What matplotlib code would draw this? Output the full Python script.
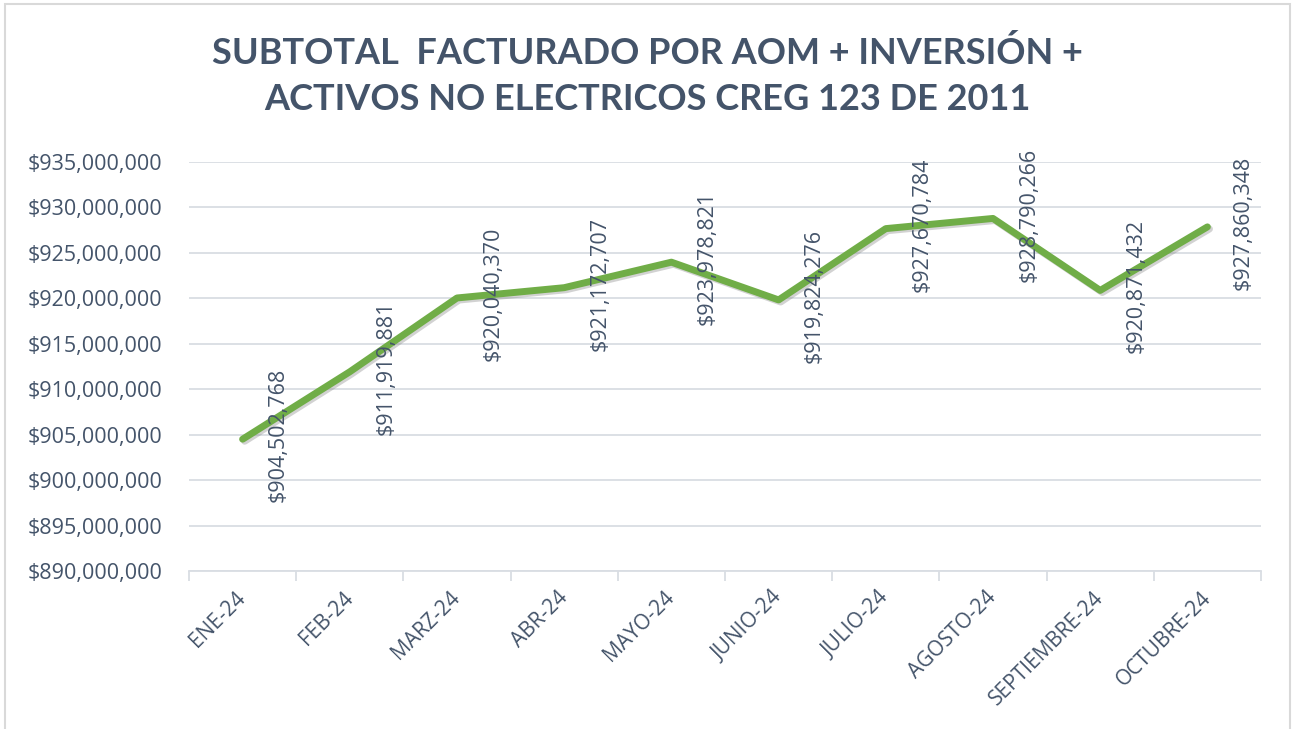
import matplotlib
matplotlib.use("Agg")
import matplotlib.pyplot as plt
import matplotlib.patheffects as pe
from matplotlib.patches import Rectangle
from matplotlib.ticker import FuncFormatter, MultipleLocator, FixedLocator

months = ["ENE-24", "FEB-24", "MARZ-24", "ABR-24", "MAYO-24", "JUNIO-24",
          "JULIO-24", "AGOSTO-24", "SEPTIEMBRE-24", "OCTUBRE-24"]
values = [904502768, 911919881, 920040370, 921172707, 923978821,
          919824276, 927670784, 928790266, 920871432, 927860348]
title_lines = ["SUBTOTAL  FACTURADO POR AOM + INVERSIÓN +",
               "ACTIVOS NO ELECTRICOS CREG 123 DE 2011"]

TXT = "#44546A"
GRID = "#D9DDE3"
GREEN = "#70AD47"

W, H = 1295, 729
fig = plt.figure(figsize=(W / 100, H / 100), dpi=100)
fig.patch.set_facecolor("white")

# outer chart border
fig.patches.append(Rectangle((5 / W, -0.05), (1290 - 5) / W, 1.05 - 4 / H,
                             transform=fig.transFigure, fill=False,
                             edgecolor="#D9D9D9", lw=1.5))

ax = fig.add_axes([189 / W, 1 - 571 / H, (1261 - 189) / W, (571 - 162) / H])
x = list(range(len(months)))
ax.plot(x, values, color=GREEN, lw=5, solid_capstyle="round", solid_joinstyle="round",
        path_effects=[pe.SimpleLineShadow(offset=(1.5, -1.5), shadow_color="gray", alpha=0.35),
                      pe.Normal()], zorder=3)

ax.set_xlim(-0.5, len(months) - 0.5)
ax.set_ylim(890e6, 935e6)
ax.yaxis.set_major_locator(MultipleLocator(5e6))
ax.yaxis.set_major_formatter(FuncFormatter(lambda v, p: f"${v:,.0f}"))
ax.grid(axis="y", color=GRID, lw=1.3, zorder=0)

for s in ["top", "right", "left"]:
    ax.spines[s].set_visible(False)
ax.spines["bottom"].set_color(GRID)
ax.spines["bottom"].set_linewidth(1.3)

ax.set_xticks(x)
ax.set_xticklabels(months, rotation=45, ha="right", va="center",
                   rotation_mode="anchor", fontsize=15, color=TXT, family="Open Sans")
ax.tick_params(axis="x", which="major", length=0, pad=17)
ax.xaxis.set_minor_locator(FixedLocator([i - 0.5 for i in range(len(months) + 1)]))
ax.tick_params(axis="x", which="minor", length=7, color=GRID, width=1.3)
ax.tick_params(axis="y", length=0, pad=19, labelsize=15.5, labelcolor=TXT)
for lbl in ax.get_yticklabels():
    lbl.set_family("Open Sans")

for xi, v in zip(x, values):
    ax.annotate(f"${v:,.0f}", (xi, v), xytext=(36, 4), textcoords="offset pixels",
                rotation=90, ha="center", va="center", fontsize=15.5, color=TXT,
                family="Open Sans", zorder=4)

fig.text(0.5, 1 - 53 / H, title_lines[0], ha="center", va="center",
         fontsize=26, fontweight="bold", color=TXT, family="Lato")
fig.text(0.5, 1 - 99 / H, title_lines[1], ha="center", va="center",
         fontsize=26, fontweight="bold", color=TXT, family="Lato")

fig.savefig("out.png", dpi=100)
